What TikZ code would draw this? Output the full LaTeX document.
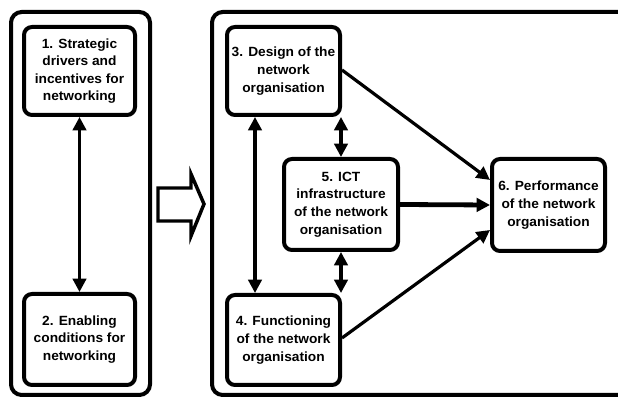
\documentclass[tikz,border=0pt]{standalone}
\usepackage{fontspec}
\setmainfont{Liberation Sans}
\newfontfamily\boxfont[FakeStretch=1.03]{Liberation Sans}
\usetikzlibrary{arrows.meta}

\tikzset{
  block/.style={draw, line width=3pt, rounded corners=6pt, align=center,
    font=\boxfont\bfseries\fontsize{10}{13.2}\selectfont, inner sep=0pt},
  frame/.style={draw, line width=3pt, rounded corners=8pt, inner sep=0pt},
  link/.style={line width=2.4pt, -{Triangle[length=10pt, width=10pt]}},
  bilink/.style={line width=2.4pt, {Triangle[length=10pt, width=10pt]}-{Triangle[length=10pt, width=10pt]}}
}

\begin{document}
\begin{tikzpicture}[x=0.75pt, y=-0.75pt]
  \useasboundingbox (0, 0) rectangle (618, 398);
  \clip (0, 0) rectangle (618, 398);

  % Left group
  \node [frame, minimum width=104.25pt, minimum height=287.25pt] (grpleft) at (80.5, 203.5) {};
  \node [block, minimum width=83.25pt, minimum height=66pt] (drivers) at (79.5, 71) {1. Strategic\\drivers and\\incentives for\\networking};
  \node [block, minimum width=83.25pt, minimum height=68.25pt] (enabling) at (79.5, 339.5) {2. Enabling\\conditions for\\networking};
  \draw [bilink] (drivers) -- (enabling);

  % Hollow arrow between groups
  \draw [line width=2.6pt, line join=miter]
    (158, 188) -- (191, 188) -- (191, 174) -- (204, 204) -- (191, 236) -- (191, 221) -- (158, 221) -- cycle;

  % Right group
  \node [frame, minimum width=330pt, minimum height=287.25pt] (grpright) at (432, 203.5) {};
  \node [block, minimum width=84.75pt, minimum height=66pt] (design) at (283.5, 71) {3. Design of the\\network\\organisation};
  \node [block, minimum width=84.75pt, minimum height=67.5pt] (functioning) at (283.5, 340) {4. Functioning\\of the network\\organisation};
  \node [block, minimum width=85.5pt, minimum height=68.25pt] (ict) at (341, 204.5) {5. ICT\\infrastructure\\of the network\\organisation};
  \node [block, minimum width=84.75pt, minimum height=69pt] (performance) at (548.5, 205) {6. Performance\\of the network\\organisation};

  \draw [bilink] (design.south -| 255, 0) -- (functioning.north -| 255, 0);
  \draw [bilink] (design.south -| ict.north) -- (ict.north);
  \draw [bilink] (ict.south) -- (functioning.north -| ict.south);
  \draw [link] (design.east |- 0, 70) -- (performance.west |- 0, 180);
  \draw [link, line width=3.6pt] (ict.east) -- (performance.west);
  \draw [link] (functioning.east |- 0, 338) -- (performance.west |- 0, 230);
\end{tikzpicture}
\end{document}
